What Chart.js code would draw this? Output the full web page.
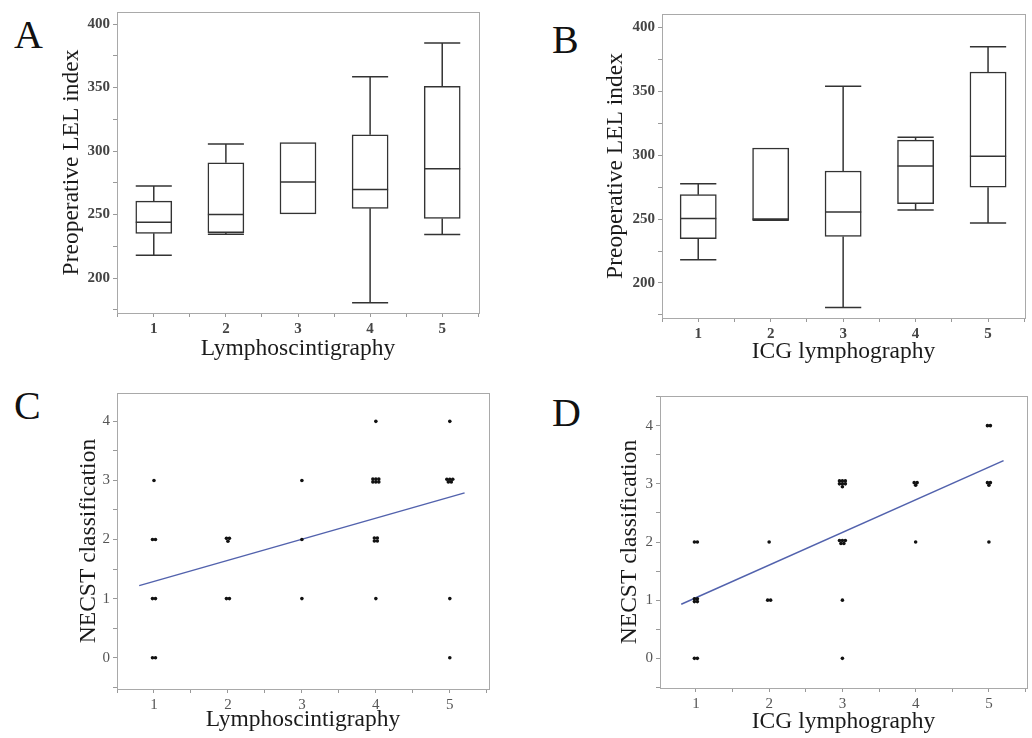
<!DOCTYPE html>
<html>
<head>
<meta charset="utf-8">
<script src="https://cdn.jsdelivr.net/npm/chart.js@4.4.1/dist/chart.umd.min.js"></script>
<style>
body { margin: 0; width: 1032px; height: 738px; overflow: hidden; background: #fff; position: relative; font-family: "Liberation Serif", serif; }
canvas { position: absolute; }
.lab { position: absolute; font-size: 40px; line-height: 1; color: #111; }
</style>
</head>
<body>
<div class="lab" style="left:14px;top:15px">A</div>
<div class="lab" style="left:552px;top:20px">B</div>
<div class="lab" style="left:14px;top:386px">C</div>
<div class="lab" style="left:552px;top:393px">D</div>
<canvas id="chartA" width="433" height="363" style="left:58px;top:0px"></canvas>
<canvas id="chartB" width="430" height="366" style="left:602px;top:0px"></canvas>
<canvas id="chartC" width="424" height="364" style="left:75px;top:370px"></canvas>
<canvas id="chartD" width="416" height="366" style="left:616px;top:370px"></canvas>
<script>
// stage / grade on the x axis
let grades = [1, 2, 3, 4, 5];

// A - preoperative LEL index by lymphoscintigraphy stage
let lymMin = [218, 234.5, 250.6, 180.6, 234.4];
let lymQ1  = [235.2, 235.7, 250.6, 254.9, 247];
let lymMed = [243.9, 250.1, 275.6, 269.8, 286.1];
let lymQ3  = [260.6, 290.8, 306.6, 312.8, 351];
let lymMax = [272.4, 305.5, 306.6, 358.5, 385];

// B - preoperative LEL index by ICG lymphography stage
let icgMin = [218.2, 249, 180.8, 257, 246.9];
let icgQ1  = [234.6, 249.2, 236.4, 262.1, 274.9];
let icgMed = [250.5, 250, 255.5, 291.5, 299.1];
let icgQ3  = [269.1, 305.6, 287.6, 311.7, 365];
let icgMax = [277.7, 305.6, 353.8, 314, 384.8];

// C - NECST class vs lymphoscintigraphy (points as plotted, with jitter)
let necstLymX = [1, 0.98, 1.02, 0.98, 1.02, 0.98, 1.02,
  1.98, 2.02, 2, 1.98, 2.02,
  3, 3, 3,
  4, 3.96, 4, 4.04, 3.96, 4, 4.04, 3.98, 4.02, 3.98, 4.02, 4,
  5, 4.96, 5, 5.04, 4.98, 5.02, 5, 5];
let necstLymY = [3, 2, 2, 1, 1, 0, 0,
  2.02, 2.02, 1.97, 1, 1,
  3, 2, 1,
  4, 3.025, 3.025, 3.025, 2.975, 2.975, 2.975, 2.025, 2.025, 1.975, 1.975, 1,
  4, 3.02, 3.02, 3.02, 2.975, 2.975, 1, 0];
let fitLymX = [0.8, 5.2];
let fitLymY = [1.22, 2.79];

// D - NECST class vs ICG lymphography
let necstIcgX = [0.98, 1.02, 0.98, 1.02, 0.98, 1.02, 0.98, 1.02,
  2, 1.98, 2.02,
  2.96, 3, 3.04, 2.96, 3, 3.04, 3, 2.96, 3, 3.04, 2.98, 3.02, 3, 3,
  3.98, 4.02, 4, 4,
  4.98, 5.02, 4.98, 5.02, 5, 5];
let necstIcgY = [2, 2, 1.025, 1.025, 0.975, 0.975, 0, 0,
  2, 1, 1,
  3.05, 3.05, 3.05, 3, 3, 3, 2.95, 2.025, 2.025, 2.025, 1.975, 1.975, 1, 0,
  3.02, 3.02, 2.975, 2,
  4, 4, 3.02, 3.02, 2.975, 2];
let fitIcgX = [0.8, 5.2];
let fitIcgY = [0.93, 3.4];

const serif = '"Liberation Serif", "Times New Roman", serif';
Chart.defaults.font.family = serif;
Chart.defaults.animation = false;

// grey box round the plot area
const frame = {
  id: 'frame',
  beforeDatasetsDraw(chart) {
    const { ctx, chartArea: a } = chart;
    ctx.save();
    ctx.strokeStyle = '#a9a9a9';
    ctx.lineWidth = 1;
    ctx.strokeRect(Math.round(a.left) + 0.5, Math.round(a.top) + 0.5, Math.round(a.right - a.left), Math.round(a.bottom - a.top));
    ctx.restore();
  }
};

// whiskers, caps and median lines on top of the floating bars
const whiskers = {
  id: 'whiskers',
  afterDatasetsDraw(chart, args, opts) {
    if (!opts.med) return;
    const { ctx, scales: { x, y } } = chart;
    const bars = chart.getDatasetMeta(0).data;
    ctx.save();
    ctx.strokeStyle = '#333';
    ctx.lineWidth = 1.5;
    const seg = (x1, y1, x2, y2) => { ctx.beginPath(); ctx.moveTo(x1, y1); ctx.lineTo(x2, y2); ctx.stroke(); };
    grades.forEach((g, i) => {
      const cx = x.getPixelForValue(g);
      const hw = bars[i].width / 2;
      if (opts.min[i] < opts.q1[i]) {
        const p = y.getPixelForValue(opts.min[i]);
        seg(cx, y.getPixelForValue(opts.q1[i]), cx, p);
        seg(cx - hw, p, cx + hw, p);
      }
      if (opts.max[i] > opts.q3[i]) {
        const p = y.getPixelForValue(opts.max[i]);
        seg(cx, y.getPixelForValue(opts.q3[i]), cx, p);
        seg(cx - hw, p, cx + hw, p);
      }
      const m = y.getPixelForValue(opts.med[i]);
      seg(cx - hw, m, cx + hw, m);
    });
    ctx.restore();
  }
};

function axes(c) {
  return {
    x: {
      type: 'linear', min: c.xmin, max: c.xmax, offset: false,
      grid: { offset: false, drawOnChartArea: false, tickLength: 4, tickColor: '#999' },
      border: { display: false },
      ticks: { stepSize: 0.5, autoSkip: false, includeBounds: false, maxRotation: 0, padding: 3, color: c.tickColor,
        font: { size: 15, weight: c.tickWeight },
        callback: v => (Math.abs(v - Math.round(v)) < 1e-6) ? Math.round(v) : '' },
      title: { display: true, text: c.xTitle, color: '#1a1a1a', padding: 0, font: { size: 23.5 } },
      afterFit: s => { s.height = c.xh; }
    },
    y: {
      min: c.ymin, max: c.ymax, beginAtZero: false,
      grid: { drawOnChartArea: false, tickLength: 4, tickColor: '#999' },
      border: { display: false },
      ticks: { stepSize: c.ystep, autoSkip: false, includeBounds: false, padding: 3, color: c.tickColor,
        font: { size: 15, weight: c.tickWeight },
        callback: v => (Math.abs(v / c.ylab - Math.round(v / c.ylab)) < 1e-6) ? Math.round(v) : '' },
      title: { display: true, text: c.yTitle, color: '#1a1a1a', padding: 0, font: { size: 23.5 } },
      afterFit: s => { s.width = c.yw; }
    }
  };
}

function boxChart(id, mins, q1s, meds, q3s, maxs, c) {
  new Chart(document.getElementById(id), {
    type: 'bar',
    data: {
      datasets: [{
        data: grades.map((g, i) => ({ x: g, y: [q1s[i], q3s[i]] })),
        backgroundColor: '#fff',
        borderColor: '#333',
        borderWidth: 1.5,
        borderSkipped: false,
        barPercentage: 1,
        categoryPercentage: 1
      }]
    },
    options: {
      responsive: false,
      layout: { padding: c.pad },
      plugins: { legend: { display: false }, tooltip: { enabled: false },
        whiskers: { min: mins, q1: q1s, med: meds, q3: q3s, max: maxs } },
      scales: axes(c)
    },
    plugins: [frame, whiskers]
  });
}

function dotChart(id, xs, ys, fx, fy, c) {
  new Chart(document.getElementById(id), {
    type: 'scatter',
    data: {
      datasets: [{
        data: xs.map((v, i) => ({ x: v, y: ys[i] })),
        pointRadius: 1.8,
        pointBackgroundColor: '#111',
        pointBorderWidth: 0
      }, {
        data: fx.map((v, i) => ({ x: v, y: fy[i] })),
        showLine: true,
        borderColor: '#5262ad',
        borderWidth: 1.5,
        pointRadius: 0
      }]
    },
    options: {
      responsive: false,
      layout: { padding: c.pad },
      plugins: { legend: { display: false }, tooltip: { enabled: false } },
      scales: axes(c)
    },
    plugins: [frame]
  });
}

boxChart('chartA', lymMin, lymQ1, lymMed, lymQ3, lymMax, {
  xmin: 0.49, xmax: 5.51, ymin: 172.5, ymax: 409.5, ystep: 25, ylab: 50,
  xTitle: 'Lymphoscintigraphy', yTitle: 'Preoperative LEL index',
  xh: 50, yw: 59, pad: { top: 12, right: 12 }, tickColor: '#444', tickWeight: 'bold'
});
boxChart('chartB', icgMin, icgQ1, icgMed, icgQ3, icgMax, {
  xmin: 0.5, xmax: 5.51, ymin: 172.6, ymax: 410.4, ystep: 25, ylab: 50,
  xTitle: 'ICG lymphography', yTitle: 'Preoperative LEL index',
  xh: 48, yw: 60, pad: { top: 14, right: 7 }, tickColor: '#444', tickWeight: 'bold'
});
dotChart('chartC', necstLymX, necstLymY, fitLymX, fitLymY, {
  xmin: 0.5, xmax: 5.53, ymin: -0.53, ymax: 4.48, ystep: 0.5, ylab: 1,
  xTitle: 'Lymphoscintigraphy', yTitle: 'NECST classification',
  xh: 45, yw: 42, pad: { top: 23, right: 10 }, tickColor: '#555', tickWeight: 'normal'
});
dotChart('chartD', necstIcgX, necstIcgY, fitIcgX, fitIcgY, {
  xmin: 0.51, xmax: 5.52, ymin: -0.51, ymax: 4.51, ystep: 0.5, ylab: 1,
  xTitle: 'ICG lymphography', yTitle: 'NECST classification',
  xh: 48, yw: 44, pad: { top: 26, right: 5 }, tickColor: '#555', tickWeight: 'normal'
});
</script>
</body>
</html>
